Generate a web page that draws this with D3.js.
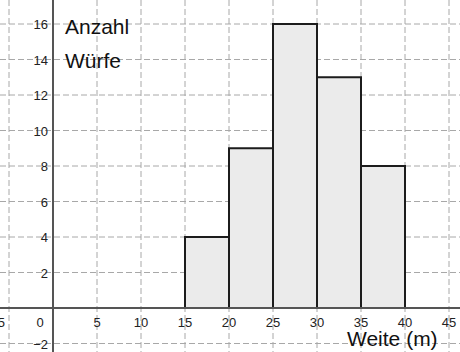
<!DOCTYPE html>
<html><head><meta charset="utf-8">
<script src="https://cdn.jsdelivr.net/npm/d3@7"></script>
<style>body{margin:0;background:#fff}svg{display:block}text{font-family:"Liberation Sans",Arial,sans-serif}</style>
</head><body>
<script>
const binStarts = [15, 20, 25, 30, 35];
const binWidth = 5;
const counts = [4, 9, 16, 13, 8];
const xTicks = [-5, 5, 10, 15, 20, 25, 30, 35, 40, 45];
const yTicks = [-2, 2, 4, 6, 8, 10, 12, 14, 16];
const yLabelLines = ["Anzahl", "Würfe"];
const xLabel = "Weite (m)";

const W = 460, H = 352;
const x = d3.scaleLinear().domain([0, 45]).range([53, 53 + 45 * 8.8]);
const y = d3.scaleLinear().domain([0, 16]).range([308, 308 - 16 * 17.75]);

const svg = d3.select("body").append("svg").attr("width", W).attr("height", H);

// grid
const gx = d3.range(-5, 50, 5).filter(v => v !== 0);
const gy = d3.range(-2, 18, 2).filter(v => v !== 0);
svg.append("g").selectAll("line").data(gx).join("line")
  .attr("x1", d => x(d)).attr("x2", d => x(d)).attr("y1", 0).attr("y2", H)
  .attr("stroke", "#a8a8a8").attr("stroke-width", 1).attr("stroke-dasharray", "6,3");
svg.append("g").selectAll("line").data(gy).join("line")
  .attr("y1", d => y(d)).attr("y2", d => y(d)).attr("x1", 0).attr("x2", W)
  .attr("stroke", "#a8a8a8").attr("stroke-width", 1).attr("stroke-dasharray", "6,3");

// bars
svg.append("g").selectAll("rect").data(binStarts).join("rect")
  .attr("x", d => x(d)).attr("width", x(binWidth) - x(0))
  .attr("y", (d, i) => y(counts[i])).attr("height", (d, i) => y(0) - y(counts[i]))
  .attr("fill", "#ebebeb").attr("stroke", "#1c1c1c").attr("stroke-width", 2);

// axes
svg.append("line").attr("x1", 0).attr("x2", W).attr("y1", y(0)).attr("y2", y(0))
  .attr("stroke", "#555").attr("stroke-width", 2);
svg.append("line").attr("x1", x(0)).attr("x2", x(0)).attr("y1", 0).attr("y2", H)
  .attr("stroke", "#555").attr("stroke-width", 2);

// x tick labels
svg.append("g").selectAll("text").data(xTicks).join("text")
  .attr("x", d => d < 0 ? 5 : x(d)).attr("y", y(0) + 19)
  .attr("text-anchor", d => d < 0 ? "end" : "middle")
  .attr("font-size", 13).attr("fill", "#222")
  .text(d => d < 0 ? "\u2212" + Math.abs(d) : d);
svg.append("text").attr("x", x(0) - 13).attr("y", y(0) + 19).attr("text-anchor", "middle")
  .attr("font-size", 13).attr("fill", "#222").text("0");

// y tick labels
svg.append("g").selectAll("text").data(yTicks).join("text")
  .attr("x", x(0) - 5).attr("y", d => y(d) + 5)
  .attr("text-anchor", "end").attr("font-size", 13).attr("fill", "#222")
  .text(d => d < 0 ? "\u2212" + Math.abs(d) : d);

// axis titles
svg.append("g").selectAll("text").data(yLabelLines).join("text")
  .attr("x", 65).attr("y", (d, i) => 34 + i * 34)
  .attr("font-size", 21).attr("fill", "#111").text(d => d);
svg.append("text").attr("x", 347).attr("y", 346)
  .attr("font-size", 21).attr("fill", "#111").text(xLabel);
</script>
</body></html>
